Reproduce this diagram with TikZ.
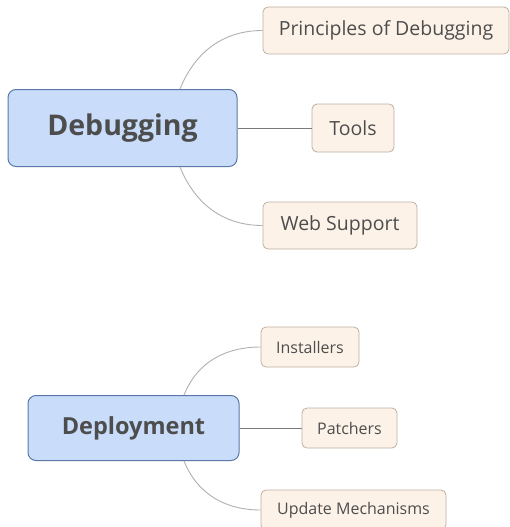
\documentclass[tikz,border=0pt]{standalone}
\usepackage{fontspec}
\setmainfont{Open Sans}
\usepackage{tikz}
\usetikzlibrary{arrows.meta}

\definecolor{topicfill}{HTML}{C9DDFB}
\definecolor{topicline}{HTML}{5A78A8}
\definecolor{subfill}{HTML}{FDF2E8}
\definecolor{subline}{HTML}{BDAFA2}
\definecolor{textgray}{HTML}{4D4D4D}
\definecolor{curvegray}{HTML}{B0B0B0}
\definecolor{linegray}{HTML}{7A7A7A}

\begin{document}
\begin{tikzpicture}[x=1pt,y=-1pt,
  topic/.style={draw=topicline, fill=topicfill, rounded corners=8pt, line width=1pt,
    text=textgray, font=\bfseries, inner sep=0pt},
  subtopic/.style={draw=subline, fill=subfill, rounded corners=5pt, line width=0.8pt,
    text=textgray, inner sep=0pt},
  branch/.style={curvegray, line width=0.9pt},
  straight/.style={linegray, line width=0.8pt}]

\useasboundingbox (0,0) rectangle (509,527);

% Debugging
\node[topic, minimum width=229pt, minimum height=77pt, font=\fontsize{28.5}{32}\selectfont\bfseries]
  (dbg) at (122.5,128) {Debugging};
\node[subtopic, minimum width=246pt, minimum height=47pt, font=\fontsize{19.5}{23}\selectfont]
  (pri) at (386,30.5) {Principles of Debugging};
\node[subtopic, minimum width=82pt, minimum height=48pt, font=\fontsize{19.5}{23}\selectfont]
  (tools) at (353,128) {Tools};
\node[subtopic, minimum width=154pt, minimum height=47pt, font=\fontsize{19.5}{23}\selectfont]
  (web) at (340,225.5) {Web Support};

\draw[branch] ([xshift=57.5pt]dbg.north) to[out=68,in=180] (pri.west);
\draw[straight] (dbg.east) -- (tools.west);
\draw[branch] ([xshift=57.5pt]dbg.south) to[out=-68,in=180] (web.west);

% Deployment
\node[topic, minimum width=211pt, minimum height=65pt, font=\fontsize{23.5}{27}\selectfont\bfseries]
  (dep) at (133.5,428) {Deployment};
\node[subtopic, minimum width=98pt, minimum height=40pt, font=\fontsize{16}{19}\selectfont]
  (inst) at (310,347) {Installers};
\node[subtopic, minimum width=95pt, minimum height=40pt, font=\fontsize{16}{19}\selectfont]
  (pat) at (349.5,428) {Patchers};
\node[subtopic, minimum width=185pt, minimum height=40pt, font=\fontsize{16}{19}\selectfont]
  (upd) at (353.5,510) {Update Mechanisms};

\draw[branch] ([xshift=50.5pt]dep.north) to[out=68,in=180] (inst.west);
\draw[straight] (dep.east) -- (pat.west);
\draw[branch] ([xshift=50.5pt]dep.south) to[out=-68,in=180] (upd.west);

\end{tikzpicture}
\end{document}
